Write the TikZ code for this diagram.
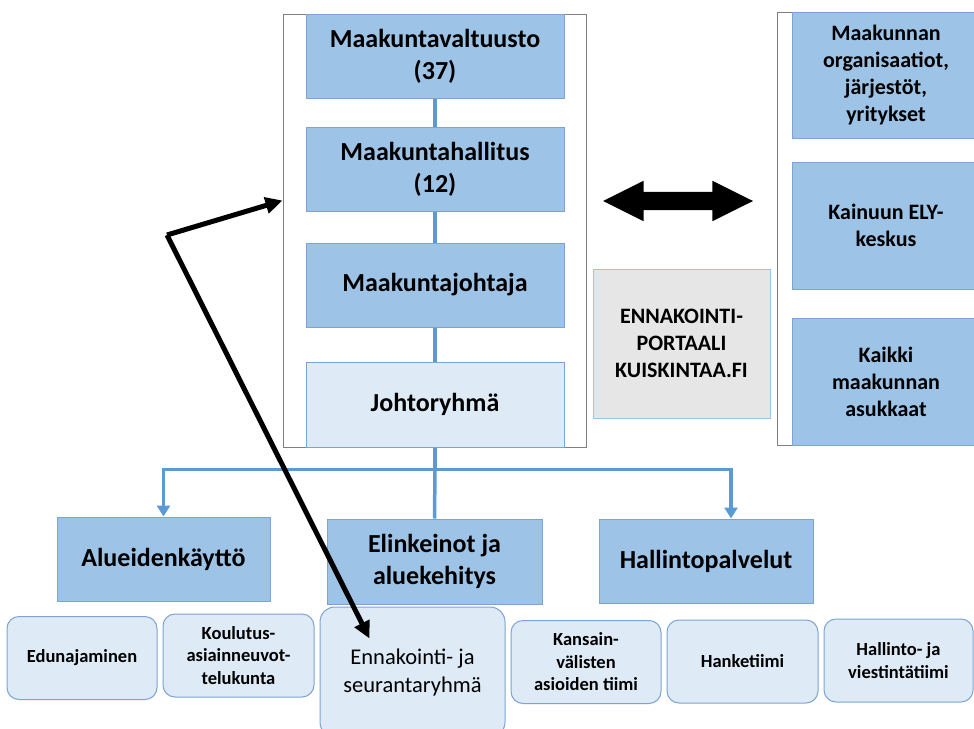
\documentclass[tikz,border=0pt]{standalone}
\usepackage{fontspec}
\setmainfont{Carlito}
\usetikzlibrary{arrows.meta,shapes.arrows}
\definecolor{laatikko}{HTML}{9DC3E6}
\definecolor{vaalea}{HTML}{DEEBF7}
\definecolor{reuna}{HTML}{7BA3D3}
\definecolor{harmaa}{HTML}{E7E6E6}
\definecolor{linja}{HTML}{5B9BD5}

\begin{document}
\begin{tikzpicture}[x=1pt,y=-1pt,
  blok/.style={draw=reuna, fill=laatikko, line width=1pt, inner sep=0pt, align=center,
    font=\bfseries\fontsize{26}{32}\selectfont},
  sivu/.style={blok, font=\bfseries\fontsize{22}{27}\selectfont},
  tiimi/.style={blok, fill=vaalea, rounded corners=12pt, minimum width=150pt, minimum height=83pt,
    font=\bfseries\fontsize{18.5}{22.5}\selectfont},
  kehys/.style={draw=gray, line width=1pt, inner sep=0pt},
  yhteys/.style={draw=linja, line width=3.5pt},
  karki/.style={-{Triangle[length=11pt,width=13pt]}},
  musta/.style={draw=black, line width=5pt, -{Triangle[length=17pt,width=16pt]}}]
  \useasboundingbox (0,0) rectangle (974,728);

  % frames
  \node[kehys, minimum width=303pt, minimum height=433pt] (vasen) at (434.5,230.5) {};
  \node[kehys, minimum width=213pt, minimum height=433pt] (oikea) at (883.5,228.5) {};

  % top column
  \node[blok, minimum width=258pt, minimum height=84pt] (valt) at (435,56) {Maakuntavaltuusto\\(37)};
  \node[blok, minimum width=258pt, minimum height=84pt] (hall) at (435,169) {Maakuntahallitus\\(12)};
  \node[blok, minimum width=258pt, minimum height=84pt] (joht) at (435,285) {Maakuntajohtaja};
  \node[blok, fill=vaalea, minimum width=258pt, minimum height=85pt] (ryhma) at (435,404.5) {Johtoryhmä};
  \draw[yhteys] (valt.south) -- (hall.north);
  \draw[yhteys] (hall.south) -- (joht.north);
  \draw[yhteys] (joht.south) -- (ryhma.north);

  % right side
  \node[sivu, minimum width=188pt, minimum height=126pt] (org) at (886,75) {Maakunnan\\organisaatiot,\\järjestöt,\\yritykset};
  \node[sivu, minimum width=188pt, minimum height=127pt] (ely) at (886,225.5) {Kainuun ELY-\\keskus};
  \node[sivu, minimum width=188pt, minimum height=127pt] (asuk) at (886,381.5) {Kaikki\\maakunnan\\asukkaat};
  \node[sivu, fill=harmaa, draw=laatikko, minimum width=177pt, minimum height=149pt] (portaali) at (681.5,343.5)
    {ENNAKOINTI-\\PORTAALI\\KUISKINTAA.FI};
  \node[double arrow, fill=black, inner xsep=0pt, inner ysep=9pt, minimum height=150pt,
    double arrow head extend=11pt, double arrow tip angle=53] (nuoli) at (678,201) {};

  % units
  \node[blok, minimum width=213pt, minimum height=84pt] (alue) at (163.5,559) {Alueidenkäyttö};
  \node[blok, minimum width=215pt, minimum height=85pt] (elink) at (434.5,561.5) {Elinkeinot ja\\aluekehitys};
  \node[blok, minimum width=214pt, minimum height=84pt] (hallp) at (706,561) {Hallintopalvelut};
  \draw[yhteys] (ryhma.south) -- ++(0,22) coordinate (haara);
  \draw[yhteys, karki] (haara) -| (alue.north);
  \draw[yhteys] (haara) -- (elink.north);
  \draw[yhteys, karki] (haara) -| ([xshift=25pt]hallp.north);

  % teams
  \node[tiimi] (edun) at (82,658) {Edunajaminen};
  \node[tiimi, minimum width=151pt] (koul) at (238.5,655.5) {Koulutus-\\asiainneuvot-\\telukunta};
  \node[tiimi, minimum width=185pt, minimum height=130pt, rounded corners=15pt,
    font=\fontsize{22.5}{28}\selectfont] (ennak) at (412.5,672) {Ennakointi- ja\\seurantaryhmä};
  \node[tiimi] (kans) at (586,662) {Kansain-\\välisten\\asioiden tiimi};
  \node[tiimi, minimum width=151pt] (hank) at (742.5,661.5) {Hanketiimi};
  \node[tiimi, minimum width=149pt] (viest) at (898.5,660.5) {Hallinto- ja\\viestintätiimi};

  % black arrows
  \coordinate (kulma) at (167,235);
  \draw[musta] (kulma) -- ([yshift=30pt]vasen.west);
  \draw[musta] (kulma) -- ([xshift=50pt,yshift=-32pt]ennak.north west);

\end{tikzpicture}
\end{document}
